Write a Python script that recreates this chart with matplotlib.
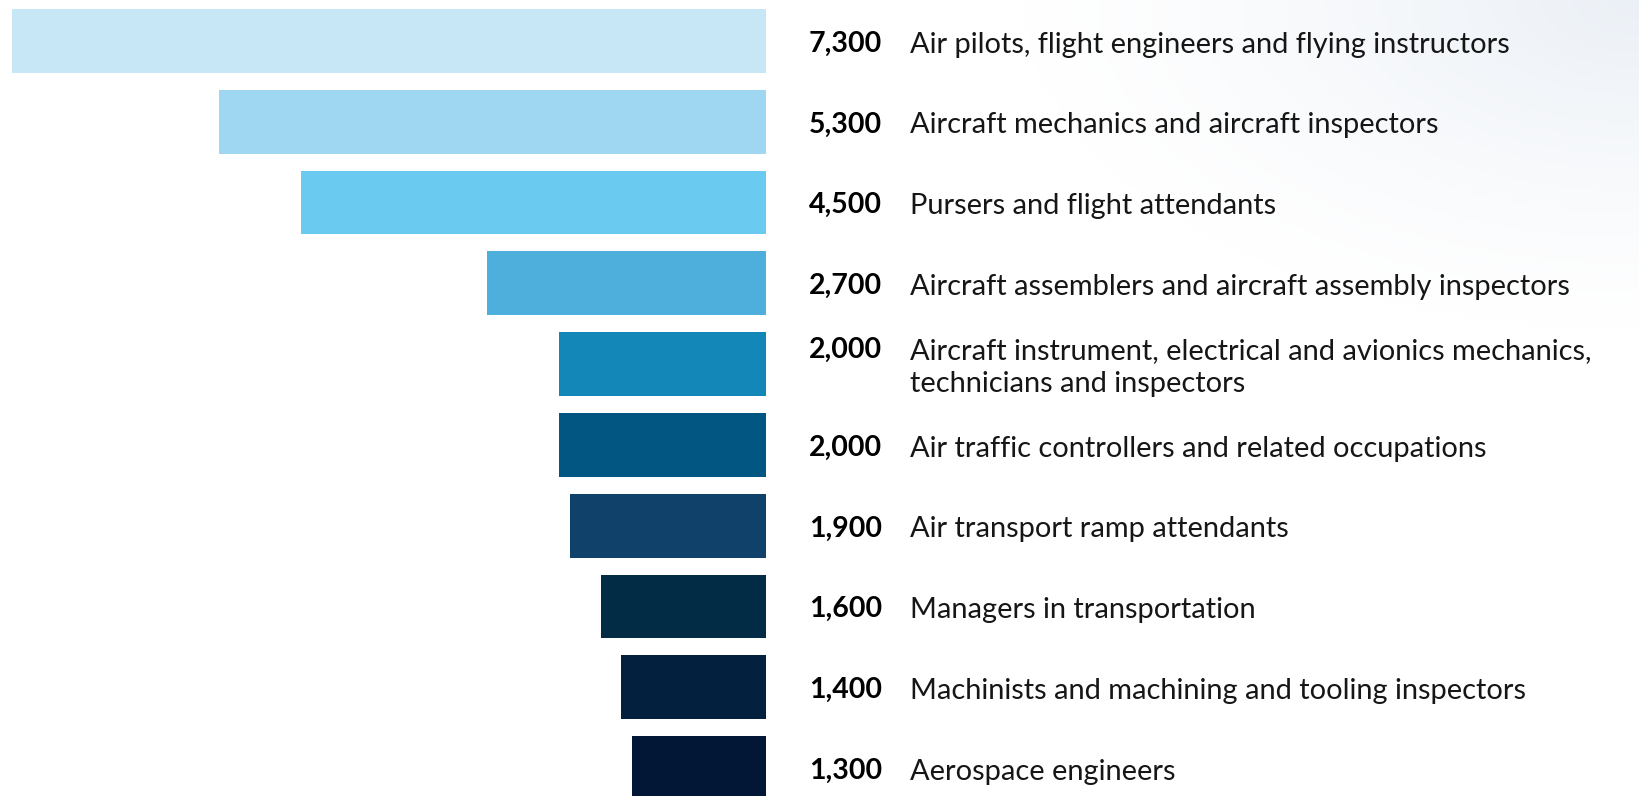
import matplotlib
matplotlib.use("Agg")
import matplotlib.pyplot as plt
import matplotlib.transforms as mtransforms
import numpy as np

values = [7300, 5300, 4500, 2700, 2000, 2000, 1900, 1600, 1400, 1300]
value_labels = ["7,300", "5,300", "4,500", "2,700", "2,000", "2,000", "1,900", "1,600", "1,400", "1,300"]
occupations = [
    "Air pilots, flight engineers and flying instructors",
    "Aircraft mechanics and aircraft inspectors",
    "Pursers and flight attendants",
    "Aircraft assemblers and aircraft assembly inspectors",
    "Aircraft instrument, electrical and avionics mechanics,\ntechnicians and inspectors",
    "Air traffic controllers and related occupations",
    "Air transport ramp attendants",
    "Managers in transportation",
    "Machinists and machining and tooling inspectors",
    "Aerospace engineers",
]
colors = ["#C7E7F7", "#9FD7F3", "#6BCAEF", "#4FAFDC", "#1287B8",
          "#025782", "#0F416B", "#022C46", "#03203F", "#021635"]

W, H = 1640, 796
fig = plt.figure(figsize=(W / 100, H / 100), dpi=100)
fig.patch.set_facecolor("white")

# subtle background gradient in top-right corner
bg = fig.add_axes([0, 0, 1, 1], zorder=0)
xx, yy = np.meshgrid(np.linspace(0, 1, 400), np.linspace(0, 1, 200))
d = np.sqrt(((1 - xx) / 0.38) ** 2 + ((1 - yy) / 0.42) ** 2)
a = np.clip(1 - d, 0, 1) ** 1.3
img = np.ones((200, 400, 4))
img[..., 0] = 0.925
img[..., 1] = 0.945
img[..., 2] = 0.965
img[..., 3] = a
bg.imshow(img, extent=[0, 1, 0, 1], origin="lower", aspect="auto")
bg.set_xlim(0, 1)
bg.set_ylim(0, 1)
bg.axis("off")

# bar axes: value 0 at x=766 px, 7300 at x=12 px
x0_px = 766
scale = (766 - 12) / 7300
ax = fig.add_axes([0, 0, x0_px / W, 1], zorder=1)
ax.patch.set_alpha(0)
pitch = 80.8
c0 = 40.85
ypos = np.arange(len(values))
ax.barh(ypos, values, height=63.7 / pitch, color=colors)
ax.set_xlim(x0_px / scale, 0)
ax.set_ylim((H - c0) / pitch, -c0 / pitch)
ax.axis("off")

trans = mtransforms.blended_transform_factory(fig.transFigure, ax.transData)
num_x = 882 / W
lab_x = 910 / W

lab_font = dict(family=["Lato", "DejaVu Sans"], weight="normal", color="#161616")
num_font = dict(family=["Lato", "DejaVu Sans"], weight="bold", color="#000000")

# auto-fit label font size to reference width
renderer = fig.canvas.get_renderer()
t = fig.text(0, 0, occupations[0], fontsize=20, **lab_font)
w = t.get_window_extent(renderer).width
lab_size = 20 * 603 / w
t.remove()
num_size = 20.5

lab_base = 11.8 / pitch
num_base = 10.8 / pitch
line_gap = 33 / pitch
for i, (v, lab) in enumerate(zip(value_labels, occupations)):
    lines = lab.split("\n")
    first = i - line_gap * (len(lines) - 1) / 2
    ax.text(num_x, first + num_base, v, transform=trans, ha="right", va="baseline",
            fontsize=num_size, clip_on=False, **num_font)
    for k, line in enumerate(lines):
        ax.text(lab_x, first + k * line_gap + lab_base, line, transform=trans,
                ha="left", va="baseline", fontsize=lab_size, clip_on=False, **lab_font)

fig.savefig("out.png", dpi=100, facecolor="white")
